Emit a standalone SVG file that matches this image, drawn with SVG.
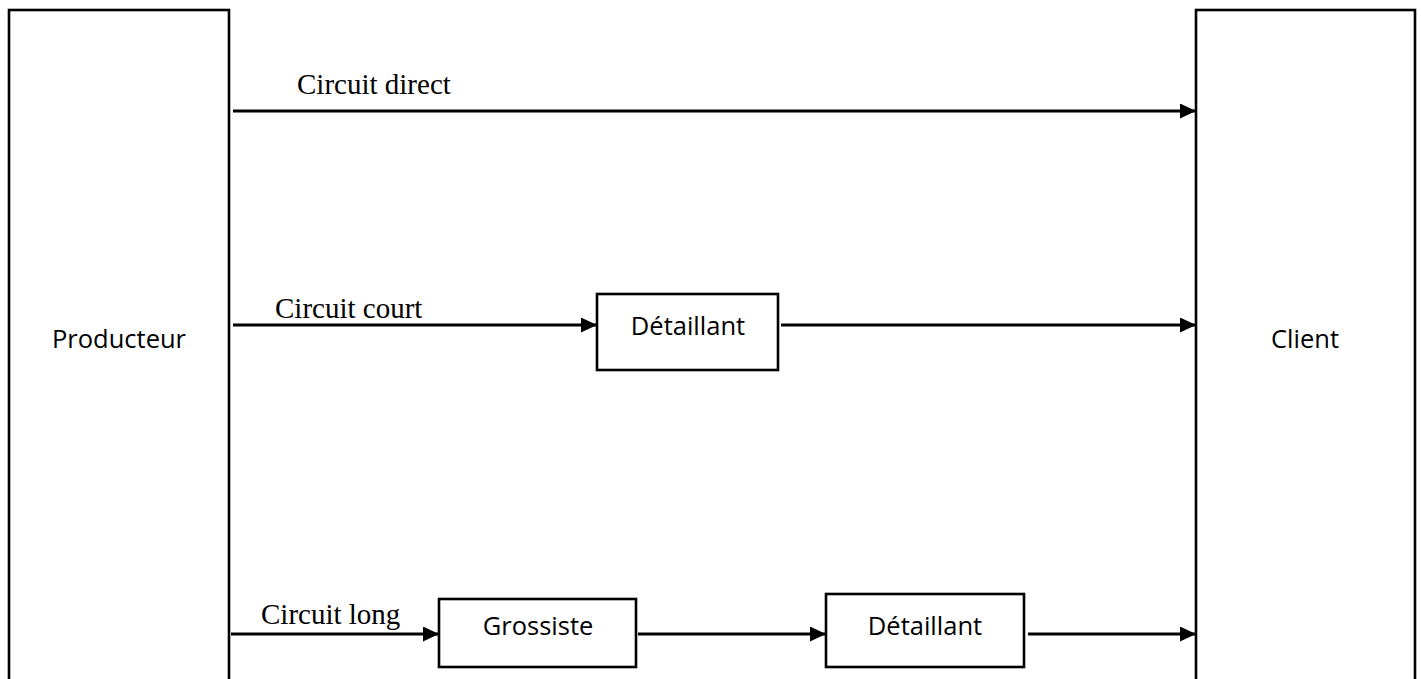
<svg xmlns="http://www.w3.org/2000/svg" width="1421" height="679" viewBox="0 0 1421 679">
  <style>
    .box { fill: #ffffff; stroke: #000000; stroke-width: 2.6; }
    .lbl { font-family: "Open Sans", "Liberation Sans", sans-serif; font-size: 25.5px; fill: #000000; text-anchor: middle; }
    .cap { font-family: "Liberation Serif", "Times New Roman", serif; font-size: 29px; fill: #000000; }
    .link { stroke: #000000; stroke-width: 2.8; fill: none; marker-end: url(#arrow); }
  </style>
  <defs>
    <marker id="arrow" markerUnits="userSpaceOnUse" markerWidth="17" markerHeight="16" refX="16" refY="7.5" orient="auto">
      <path d="M0,0 L16,7.5 L0,15 Z" fill="#000000"/>
    </marker>
  </defs>

  <g id="producteur">
    <rect class="box" x="9" y="10" width="220" height="680"/>
    <text class="lbl" x="119" y="348">Producteur</text>
  </g>

  <g id="client">
    <rect class="box" x="1196" y="10" width="219" height="680"/>
    <text class="lbl" x="1305" y="348">Client</text>
  </g>

  <g id="detaillant-court">
    <rect class="box" x="597" y="294" width="181" height="76"/>
    <text class="lbl" x="688" y="335">Détaillant</text>
  </g>

  <g id="grossiste">
    <rect class="box" x="439" y="599" width="197" height="68"/>
    <text class="lbl" x="538" y="635">Grossiste</text>
  </g>

  <g id="detaillant-long">
    <rect class="box" x="826" y="594" width="198" height="73"/>
    <text class="lbl" x="925" y="635">Détaillant</text>
  </g>

  <g id="connectors">
    <line class="link" x1="233" y1="111" x2="1196" y2="111"/>
    <line class="link" x1="233" y1="325" x2="597" y2="325"/>
    <line class="link" x1="781" y1="325" x2="1196" y2="325"/>
    <line class="link" x1="231" y1="634" x2="439" y2="634"/>
    <line class="link" x1="638" y1="634" x2="826" y2="634"/>
    <line class="link" x1="1028" y1="634" x2="1196" y2="634"/>
  </g>

  <g id="captions">
    <text class="cap" x="297" y="94">Circuit direct</text>
    <text class="cap" x="275" y="318">Circuit court</text>
    <text class="cap" x="261" y="624">Circuit long</text>
  </g>
</svg>
